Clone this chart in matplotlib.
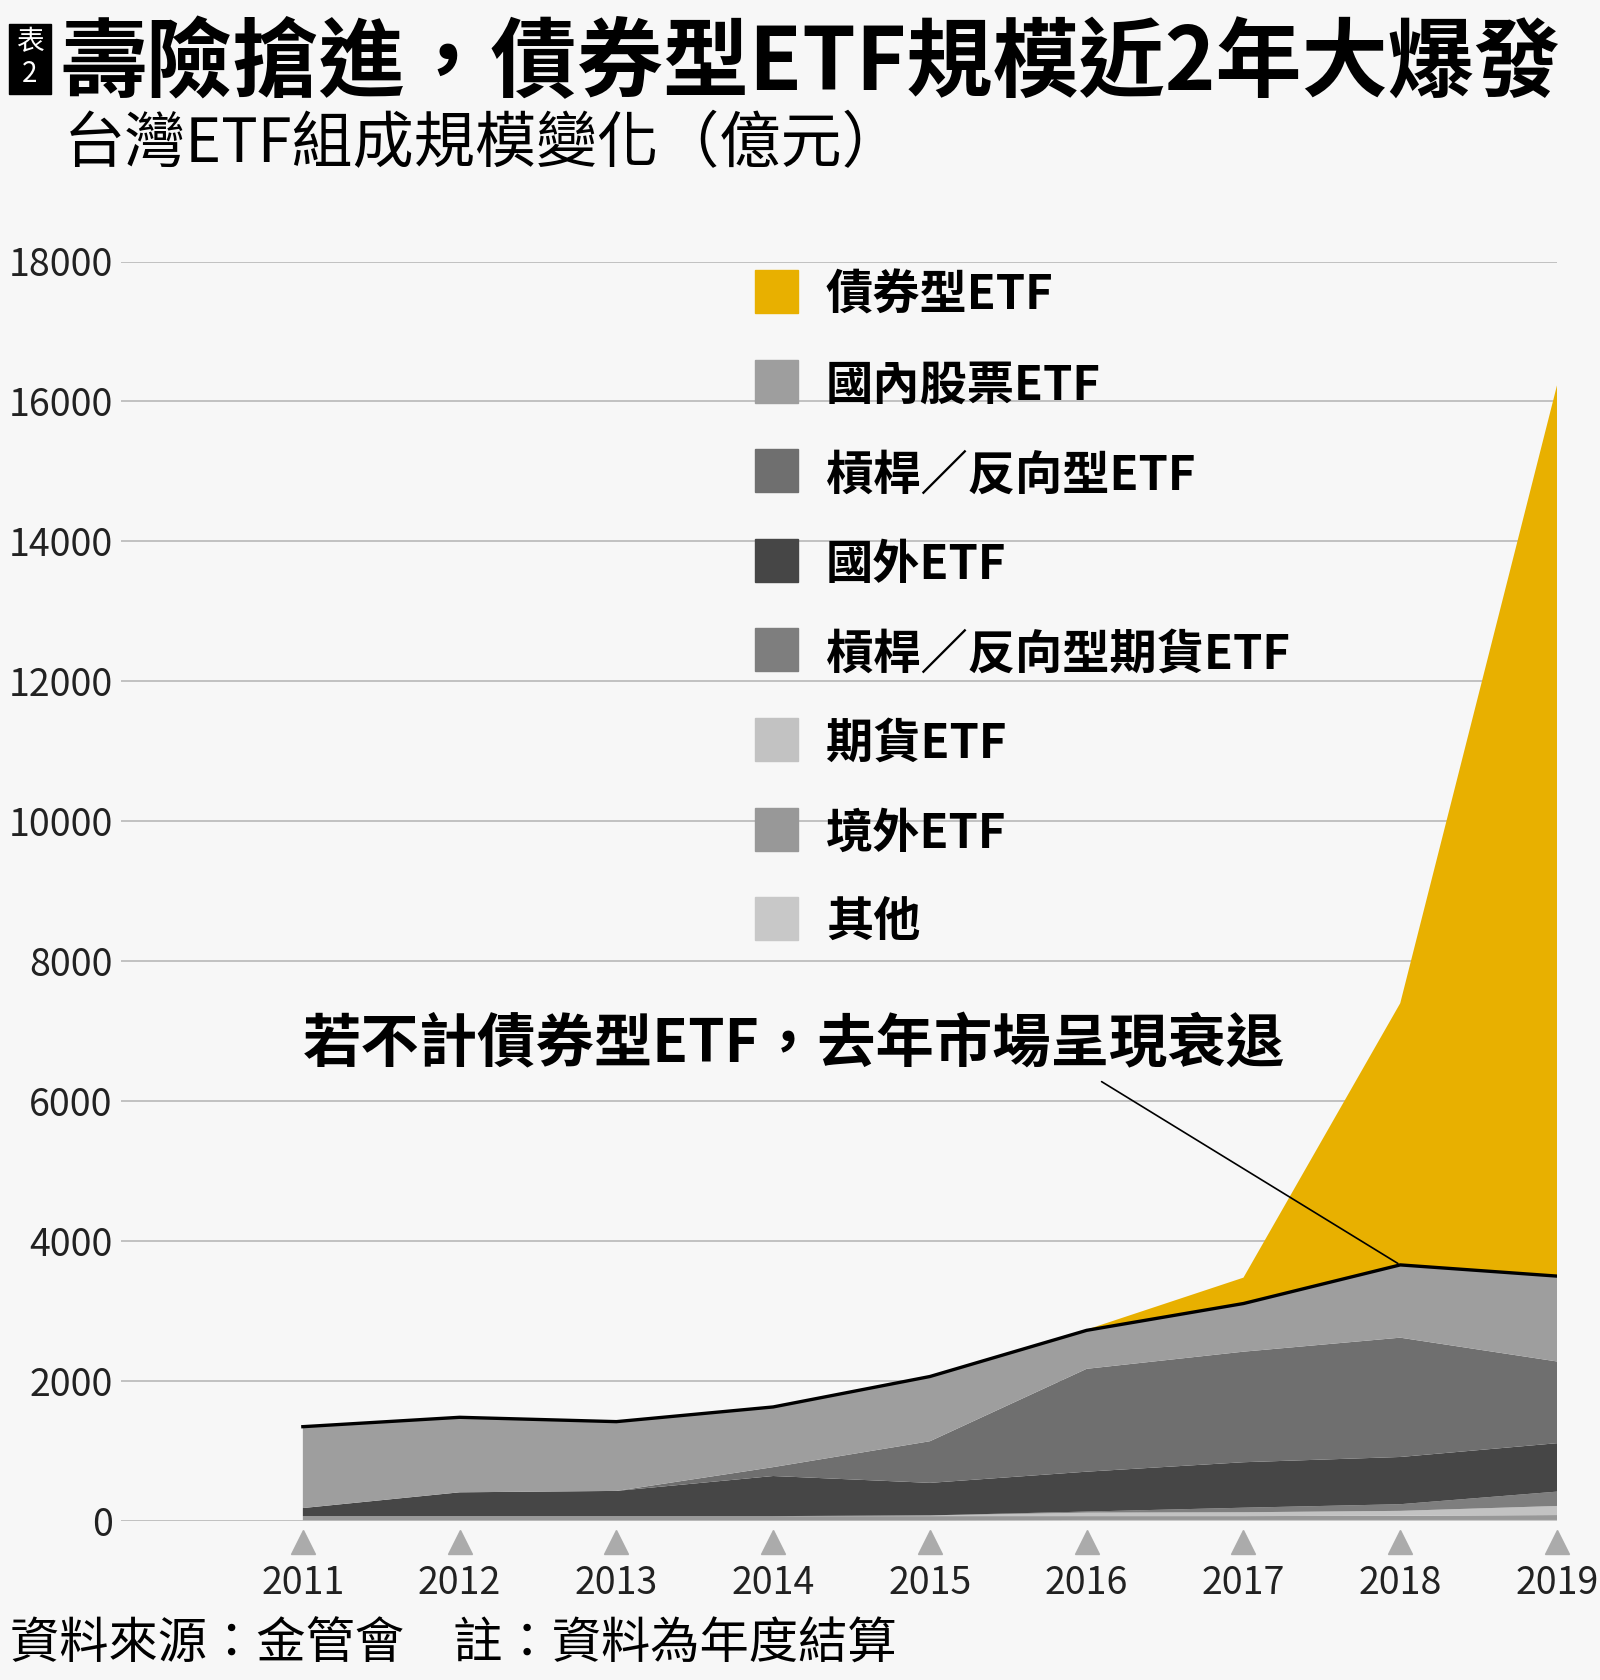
import matplotlib.pyplot as plt
from matplotlib.patches import Rectangle
import numpy as np

# data (億元)
years = [2011, 2012, 2013, 2014, 2015, 2016, 2017, 2018, 2019]
other = [10, 10, 10, 10, 10, 15, 15, 15, 15]            # 其他
overseas = [60, 60, 60, 60, 60, 55, 55, 60, 70]         # 境外ETF
futures = [0, 0, 0, 0, 10, 50, 55, 70, 130]             # 期貨ETF
lev_futures = [0, 0, 0, 0, 0, 15, 65, 95, 205]          # 槓桿／反向型期貨ETF
foreign = [115, 340, 360, 573, 465, 570, 650, 675, 692]  # 國外ETF
leveraged = [0, 0, 0, 127, 595, 1470, 1580, 1705, 1168]  # 槓桿／反向型ETF
domestic = [1163, 1072, 990, 860, 925, 550, 688, 1040, 1220]  # 國內股票ETF
bond = [0, 0, 0, 0, 0, 10, 370, 3740, 12730]            # 債券型ETF

legend_labels = ['債券型ETF', '國內股票ETF', '槓桿／反向型ETF', '國外ETF',
                 '槓桿／反向型期貨ETF', '期貨ETF', '境外ETF', '其他']
legend_colors = ['#e8b000', '#9e9e9e', '#6f6f6f', '#464646',
                 '#7e7e7e', '#c2c2c2', '#989898', '#c8c8c8']
y_ticks = [0, 2000, 4000, 6000, 8000, 10000, 12000, 14000, 16000, 18000]

CJK = ['Noto Sans CJK TC', 'DejaVu Sans']
BG = '#f7f7f7'
W, H = 1600, 1680

fig = plt.figure(figsize=(16, 16.8), dpi=100, facecolor=BG)
ax = fig.add_axes([121 / W, (H - 1521) / H, 1436 / W, 1259.5 / H])
ax.set_facecolor(BG)

# stack from bottom to top (reverse of legend order)
layers = [other, overseas, futures, lev_futures, foreign, leveraged, domestic, bond]
ax.stackplot(years, *layers, colors=legend_colors[::-1], zorder=2)

# line on top of everything except bonds
non_bond = np.sum(np.array(layers[:-1]), axis=0)
ax.plot(years, non_bond, color='black', lw=2.4, zorder=3, solid_joinstyle='miter')

ax.set_xlim(2009.84, 2019)
ax.set_ylim(0, 18000)
ax.set_yticks(y_ticks)
ax.set_yticklabels([str(v) for v in y_ticks], family=CJK, fontsize=27, color='#222222')
ax.yaxis.grid(True, color='#bdbdbd', lw=1.3, zorder=0)
ax.set_axisbelow(True)
ax.tick_params(axis='y', length=0, pad=6)
ax.set_xticks([])
for s in ax.spines.values():
    s.set_visible(False)

# triangle markers and year labels under the axis
ax.plot(years, [-300] * len(years), marker='^', ls='none', ms=17,
        color='#ababab', clip_on=False)
for y in years:
    ax.text(y, -900, str(y), ha='center', va='center', family=CJK,
            fontsize=27, color='#222222', clip_on=False)

# annotation
ax.annotate('', xy=(2018, non_bond[7]), xytext=(2016.08, 6300),
            arrowprops=dict(arrowstyle='-', color='black', lw=1.2))
ax.text(2011, 6800, '若不計債券型ETF，去年市場呈現衰退', family=CJK,
        fontsize=42, fontweight='bold', ha='left', va='center')

# legend, drawn by hand
for i, (lab, col) in enumerate(zip(legend_labels, legend_colors)):
    yc = 291 + i * 89.6
    fig.patches.append(Rectangle((755 / W, (H - yc - 22) / H), 43 / W, 43 / H,
                                 transform=fig.transFigure, color=col))
    fig.text(826 / W, (H - yc - 5) / H, lab, family=CJK, fontsize=34,
             fontweight='bold', ha='left', va='center')

# title block
fig.patches.append(Rectangle((9 / W, (H - 94) / H), 42 / W, 70 / H,
                             transform=fig.transFigure, color='black'))
fig.text(30 / W, (H - 42) / H, '表', family=CJK, fontsize=20, color='white',
         ha='center', va='center')
fig.text(30 / W, (H - 74) / H, '2', family=CJK, fontsize=20, color='white',
         ha='center', va='center')
fig.text(60 / W, (H - 65) / H, '壽險搶進，債券型ETF規模近2年大爆發', family=CJK,
         fontsize=62, fontweight='bold', ha='left', va='center')
fig.text(64 / W, (H - 145) / H, '台灣ETF組成規模變化（億元）', family=CJK,
         fontsize=44, fontweight='light', ha='left', va='center')

# footer
fig.text(10 / W, (H - 1645) / H, '資料來源：金管會　註：資料為年度結算', family=CJK,
         fontsize=35.5, fontweight='light', ha='left', va='center')

fig.savefig('out.png', dpi=100, facecolor=BG)
